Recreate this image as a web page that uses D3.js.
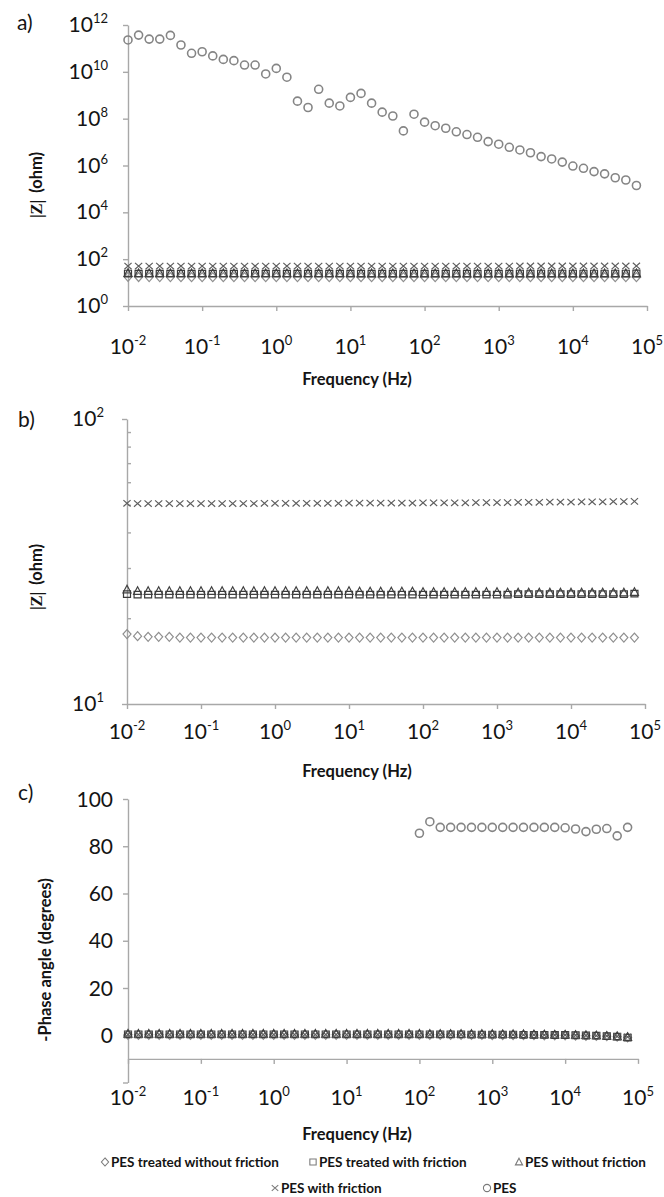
<!DOCTYPE html>
<html>
<head>
<meta charset="utf-8">
<script src="https://cdn.jsdelivr.net/npm/d3@7"></script>
<style>
	body { margin: 0; background: #fff; }
	svg text { font-family: Lato, "Open Sans", sans-serif; fill: #141414; }
</style>
</head>
<body>
<svg id="chart" width="664" height="1197"></svg>
<script>
var frequencies = [
	0.01, 0.0139, 0.0193, 0.0268, 0.0373, 0.0518, 0.072,
	0.1, 0.139, 0.193, 0.268, 0.373, 0.518, 0.72,
	1, 1.39, 1.93, 2.68, 3.73, 5.18, 7.2,
	10, 13.9, 19.3, 26.8, 37.3, 51.8, 72,
	100, 139, 193, 268, 373, 518, 720,
	1000, 1390, 1930, 2680, 3730, 5180, 7200,
	10000, 13900, 19300, 26800, 37300, 51800, 72000];

var seriesNames = ['PES treated without friction', 'PES treated with friction', 'PES without friction', 'PES with friction', 'PES'];

// |Z| (ohm)
var zTreatedNoFric = [
	17.6, 17.3, 17.2, 17.2, 17.2, 17.1, 17.1,
	17.1, 17.1, 17.1, 17.1, 17.1, 17.1, 17.1,
	17.1, 17.1, 17.1, 17.1, 17.1, 17.1, 17.1,
	17.1, 17.1, 17.1, 17.1, 17.1, 17.1, 17.1,
	17.1, 17.1, 17.1, 17.1, 17.1, 17.1, 17.1,
	17.1, 17.1, 17.1, 17.1, 17.1, 17.1, 17.1,
	17.1, 17.1, 17.1, 17.1, 17.1, 17.1, 17.1];
var zTreatedFric = [
	24.3, 24.2, 24.2, 24.2, 24.2, 24.2, 24.2,
	24.2, 24.2, 24.2, 24.2, 24.2, 24.2, 24.2,
	24.2, 24.2, 24.2, 24.2, 24.2, 24.2, 24.2,
	24.2, 24.2, 24.2, 24.2, 24.2, 24.2, 24.2,
	24.2, 24.2, 24.2, 24.2, 24.2, 24.2, 24.2,
	24.2, 24.2, 24.3, 24.3, 24.3, 24.3, 24.3,
	24.3, 24.3, 24.3, 24.3, 24.3, 24.3, 24.4];
var zNoFric = [
	25.2, 24.9, 24.9, 24.9, 24.9, 24.9, 24.9,
	24.9, 24.9, 24.9, 24.9, 24.9, 24.9, 24.9,
	24.9, 24.9, 24.9, 24.9, 24.9, 24.9, 24.9,
	24.9, 24.8, 24.8, 24.8, 24.8, 24.8, 24.8,
	24.7, 24.7, 24.7, 24.7, 24.7, 24.7, 24.7,
	24.7, 24.6, 24.6, 24.6, 24.6, 24.6, 24.6,
	24.6, 24.6, 24.6, 24.6, 24.6, 24.6, 24.7];
var zFric = [
	50.6, 50.5, 50.5, 50.5, 50.5, 50.5, 50.5,
	50.5, 50.5, 50.5, 50.5, 50.5, 50.5, 50.6,
	50.6, 50.6, 50.6, 50.6, 50.6, 50.6, 50.6,
	50.7, 50.7, 50.7, 50.7, 50.7, 50.7, 50.7,
	50.8, 50.8, 50.8, 50.8, 50.8, 50.9, 50.9,
	50.9, 50.9, 51.0, 51.0, 51.0, 51.1, 51.1,
	51.1, 51.2, 51.2, 51.2, 51.3, 51.3, 51.4];
var zPes = [
	2.3e11, 3.7e11, 2.5e11, 2.5e11, 3.6e11, 1.4e11, 6.2e10,
	7.2e10, 4.8e10, 3.4e10, 3.0e10, 1.95e10, 1.95e10, 8.1e9,
	1.4e10, 5.9e9, 5.6e8, 3.0e8, 1.8e9, 4.6e8, 3.5e8,
	8.1e8, 1.2e9, 4.6e8, 1.9e8, 1.3e8, 3.0e7, 1.55e8,
	7.1e7, 5.0e7, 3.9e7, 2.75e7, 2.1e7, 1.6e7, 1.05e7,
	8.1e6, 6.0e6, 4.6e6, 3.5e6, 2.4e6, 1.9e6, 1.4e6,
	9.5e5, 7.6e5, 5.5e5, 4.4e5, 3.0e5, 2.4e5, 1.4e5];

// -phase angle (degrees)
var phTreatedNoFric = [
	0.2, 0.2, 0.2, 0.2, 0.2, 0.2, 0.2,
	0.2, 0.2, 0.2, 0.2, 0.2, 0.2, 0.2,
	0.2, 0.2, 0.2, 0.2, 0.2, 0.2, 0.2,
	0.2, 0.2, 0.2, 0.2, 0.2, 0.2, 0.2,
	0.2, 0.2, 0.2, 0.2, 0.2, 0.2, 0.2,
	0.1, 0.1, 0.1, 0.1, 0.1, 0.0, 0.0,
	0.0, -0.1, -0.2, -0.3, -0.4, -0.6, -0.9];
var phTreatedFric = [
	0.4, 0.4, 0.4, 0.4, 0.4, 0.4, 0.4,
	0.4, 0.4, 0.4, 0.4, 0.4, 0.4, 0.4,
	0.4, 0.4, 0.4, 0.4, 0.4, 0.4, 0.4,
	0.4, 0.4, 0.4, 0.4, 0.4, 0.4, 0.4,
	0.4, 0.4, 0.4, 0.4, 0.4, 0.3, 0.3,
	0.3, 0.3, 0.3, 0.2, 0.2, 0.2, 0.1,
	0.1, 0.0, -0.1, -0.2, -0.4, -0.6, -1.0];
var phNoFric = [
	0.6, 0.6, 0.6, 0.6, 0.6, 0.6, 0.6,
	0.6, 0.6, 0.6, 0.6, 0.6, 0.6, 0.6,
	0.6, 0.6, 0.6, 0.6, 0.6, 0.6, 0.6,
	0.6, 0.6, 0.6, 0.6, 0.6, 0.6, 0.6,
	0.6, 0.5, 0.5, 0.5, 0.5, 0.5, 0.5,
	0.5, 0.4, 0.4, 0.4, 0.3, 0.3, 0.2,
	0.2, 0.1, 0.0, -0.1, -0.3, -0.5, -0.8];
var phFric = [
	0.3, 0.3, 0.3, 0.3, 0.3, 0.3, 0.3,
	0.3, 0.3, 0.3, 0.3, 0.3, 0.3, 0.3,
	0.3, 0.3, 0.3, 0.3, 0.3, 0.3, 0.3,
	0.3, 0.3, 0.3, 0.3, 0.3, 0.3, 0.3,
	0.3, 0.3, 0.3, 0.3, 0.3, 0.3, 0.3,
	0.2, 0.2, 0.2, 0.2, 0.2, 0.1, 0.1,
	0.1, 0.0, -0.1, -0.2, -0.3, -0.5, -0.7];
var phPes = [
	null, null, null, null, null, null, null,
	null, null, null, null, null, null, null,
	null, null, null, null, null, null, null,
	null, null, null, null, null, null, null,
	85.5, 90.4, 88.0, 88.0, 88.0, 88.0, 88.0,
	88.0, 88.0, 88.0, 88.0, 88.0, 88.0, 88.0,
	87.8, 87.3, 86.2, 87.2, 87.5, 84.4, 88.0];

var freqTicks = [0.01, 0.1, 1, 10, 100, 1000, 10000, 100000];
var zTicksA = [1, 1e2, 1e4, 1e6, 1e8, 1e10, 1e12];
var zTicksB = [10, 100];
var zMinorTicksB = [20, 30, 40, 50, 60, 70, 80, 90];
var phaseTicks = [-20, 0, 20, 40, 60, 80, 100];
</script>
<script>
(function(d3) {
	'use strict';

	var svg = d3.select('#chart');
	var axisGrey = '#a8a8a8';

	var markerShapes = {
		'diamond': 'M0,-4.5L4,0L0,4.5L-4,0Z',
		'square': 'M-3.5,-3.3H3.5V3.3H-3.5Z',
		'triangle': 'M0,-4.3L4,3.2L-4,3.2Z',
		'cross': 'M-3.6,-3.2L3.6,3.2M3.6,-3.2L-3.6,3.2',
		'circle': 'M4,0A4,4 0 1,1 -4,0A4,4 0 1,1 4,0Z'
	};

	var series = [
		{ name: seriesNames[0], shape: 'diamond', color: '#8f8f8f', z: zTreatedNoFric, ph: phTreatedNoFric },
		{ name: seriesNames[1], shape: 'square', color: '#3a3a3a', z: zTreatedFric, ph: phTreatedFric },
		{ name: seriesNames[2], shape: 'triangle', color: '#3f3f3f', z: zNoFric, ph: phNoFric },
		{ name: seriesNames[3], shape: 'cross', color: '#5e5e5e', z: zFric, ph: phFric },
		{ name: seriesNames[4], shape: 'circle', color: '#858585', z: zPes, ph: phPes }
	];

	/** helpers */
	var powLabel = function(text, value) {
		var exponent = Math.round(Math.log10(value));
		text.append('tspan').text('10');
		text.append('tspan').attr('font-size', 13).attr('dy', -9).text(exponent);
	};

	var styleAxis = function(g) {
		g.select('.domain').attr('stroke', axisGrey).attr('stroke-width', 1.4);
		g.selectAll('.tick line').attr('stroke', axisGrey).attr('stroke-width', 1.4);
		g.selectAll('.tick text').remove();
	};

	var drawFreqAxis = function(x, axisY, labelY, titleY) {
		var g = svg.append('g').attr('transform', 'translate(0,' + axisY + ')');
		g.call(d3.axisBottom(x).tickValues(freqTicks).tickSize(5).tickSizeOuter(0)).call(styleAxis);
		freqTicks.forEach(function(v) {
			var t = svg.append('text').attr('x', x(v)).attr('y', labelY + 7)
				.attr('text-anchor', 'middle').attr('font-size', 21);
			powLabel(t, v);
		});
		svg.append('text').attr('x', 357).attr('y', titleY + 5.5).attr('text-anchor', 'middle')
			.attr('font-size', 16.5).attr('font-weight', 'bold').text('Frequency (Hz)');
	};

	var drawMarkers = function(x, y, key) {
		series.forEach(function(s) {
			var points = frequencies.map(function(f, i) {
				return [f, s[key][i]];
			}).filter(function(d) {
				return d[1] !== null && d[1] !== undefined;
			});
			svg.append('g').selectAll('path').data(points).enter().append('path')
				.attr('transform', function(d) {
					return 'translate(' + x(d[0]) + ',' + y(d[1]) + ')';
				})
				.attr('d', markerShapes[s.shape])
				.attr('fill', 'none')
				.attr('stroke', s.color)
				.attr('stroke-width', s.shape === 'circle' ? 1.6 : 1.2);
		});
	};

	var yTitle = function(cx, cy, parts) {
		var t = svg.append('text').attr('transform', 'translate(' + cx + ',' + cy + ') rotate(-90)')
			.attr('text-anchor', 'middle').attr('font-size', 16.5).attr('font-weight', 'bold').attr('dy', 6);
		parts.forEach(function(p) {
			t.append('tspan').attr('dx', p.dx || 0).style('font-family', p.font || null).text(p.text);
		});
	};

	var panelLabel = function(x, y, label) {
		svg.append('text').attr('x', x).attr('y', y).attr('font-size', 21).text(label);
	};

	/** a) |Z| over full range */
	var xA = d3.scaleLog().domain([0.01, 1e5]).range([128, 647]);
	var yA = d3.scaleLog().domain([1, 1e12]).range([306, 25]);
	svg.append('g').attr('transform', 'translate(128,0)')
		.call(d3.axisLeft(yA).tickValues(zTicksA).tickSize(5).tickSizeOuter(0)).call(styleAxis);
	zTicksA.forEach(function(v) {
		var t = svg.append('text').attr('x', 108).attr('y', yA(v) + 7)
			.attr('text-anchor', 'end').attr('font-size', 21);
		powLabel(t, v);
	});
	drawFreqAxis(xA, 306, 347, 379);
	drawMarkers(xA, yA, 'z');
	yTitle(36, 185, [{ text: '|Z|', font: '"Liberation Serif", serif' }, { text: '(ohm)', dx: 7 }]);
	panelLabel(17, 30, 'a)');

	/** b) |Z| zoomed on the low values */
	var xB = d3.scaleLog().domain([0.01, 1e5]).range([127, 645]);
	var yB = d3.scaleLog().domain([10, 100]).range([704, 419]);
	svg.append('g').attr('transform', 'translate(127,0)')
		.call(d3.axisLeft(yB).tickValues(zTicksB).tickSize(5).tickSizeOuter(0)).call(styleAxis);
	svg.append('g').attr('transform', 'translate(127,0)')
		.call(d3.axisLeft(yB).tickValues(zMinorTicksB).tickSize(-4).tickSizeOuter(0)).call(styleAxis)
		.select('.domain').remove();
	zTicksB.forEach(function(v) {
		var t = svg.append('text').attr('x', 104).attr('y', yB(v) + 7)
			.attr('text-anchor', 'end').attr('font-size', 21);
		powLabel(t, v);
	});
	drawFreqAxis(xB, 704, 732, 771);
	drawMarkers(xB, yB, 'z');
	yTitle(36, 577, [{ text: '|Z|', font: '"Liberation Serif", serif' }, { text: '(ohm)', dx: 7 }]);
	panelLabel(18, 427, 'b)');

	/** c) phase angle */
	var xC = d3.scaleLog().domain([0.01, 1e5]).range([128, 638]);
	var yC = d3.scaleLinear().domain([-20, 100]).range([1082.5, 799]);
	svg.append('g').attr('transform', 'translate(128,0)')
		.call(d3.axisLeft(yC).tickValues(phaseTicks).tickSize(5).tickSizeOuter(0)).call(styleAxis);
	phaseTicks.filter(function(v) {
		return v >= 0;
	}).forEach(function(v) {
		svg.append('text').attr('x', 113).attr('y', yC(v) + 7.5)
			.attr('text-anchor', 'end').attr('font-size', 21).text(v);
	});
	drawFreqAxis(xC, yC(-10), 1098, 1134);
	drawMarkers(xC, yC, 'ph');
	yTitle(45, 960, [{ text: '-Phase angle (degrees)' }]);
	panelLabel(18, 800, 'c)');

	/** legend */
	var legendSlots = [[105, 1162], [313, 1162], [519, 1162], [275, 1188], [487, 1188]];
	series.forEach(function(s, i) {
		var slot = legendSlots[i];
		svg.append('path').attr('transform', 'translate(' + slot[0] + ',' + slot[1] + ') scale(0.9)')
			.attr('d', markerShapes[s.shape]).attr('fill', 'none')
			.attr('stroke', '#7a7a7a').attr('stroke-width', 1.2);
		svg.append('text').attr('x', slot[0] + 6).attr('y', slot[1] + 5)
			.attr('font-size', 13.5).attr('font-weight', 'bold').text(s.name);
	});
})(d3);
</script>
</body>
</html>
